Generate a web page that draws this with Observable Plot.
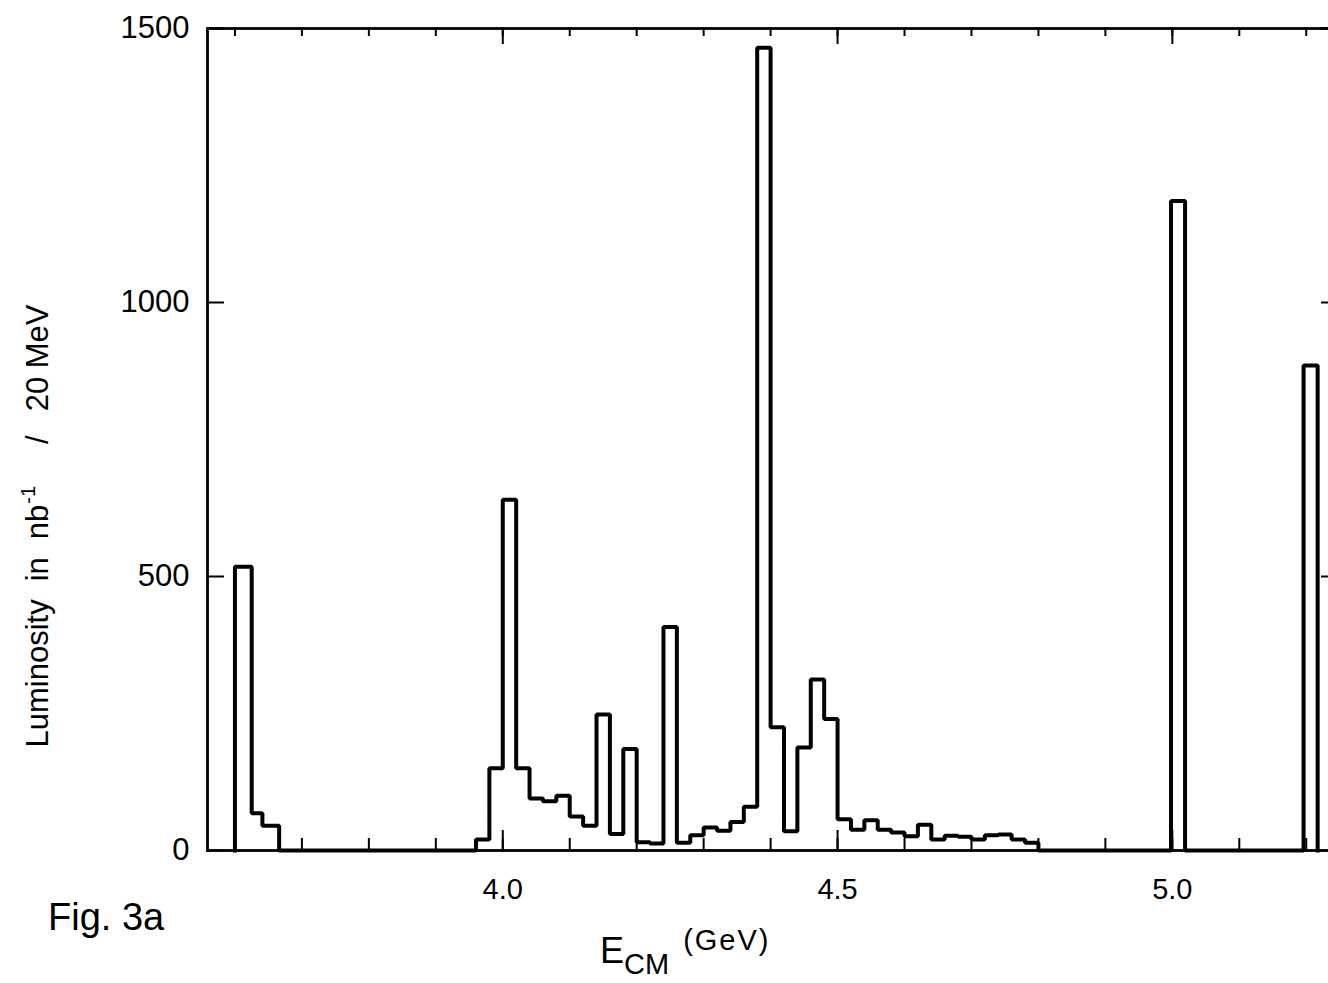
<!DOCTYPE html>
<html><head><meta charset="utf-8">
<script src="https://cdn.jsdelivr.net/npm/d3@7"></script>
<script src="https://cdn.jsdelivr.net/npm/@observablehq/plot@0.6"></script>
<style>
html,body{margin:0;padding:0;background:#fff;overflow:hidden;}
#chart{position:relative;width:1328px;height:983px;overflow:hidden;}
</style></head><body><div id="chart"></div>
<script>
// Bin edges (GeV) and luminosity per bin (nb^-1 / 20 MeV); lumi[i] spans edges[i]..edges[i+1]
const edges = [3.600, 3.625, 3.641, 3.666,
  3.96, 3.98, 4.00, 4.02, 4.04, 4.06, 4.08, 4.10, 4.12, 4.14, 4.16, 4.18, 4.20, 4.22, 4.24, 4.26,
  4.28, 4.30, 4.32, 4.34, 4.36, 4.38, 4.40, 4.42, 4.44, 4.46, 4.48, 4.50, 4.52, 4.54, 4.56, 4.58,
  4.60, 4.62, 4.64, 4.66, 4.68, 4.70, 4.72, 4.74, 4.76, 4.78, 4.80,
  4.998, 5.019, 5.196, 5.217];
const lumi = [518, 68, 45, 0,
  20, 150, 640, 150, 95, 90, 100, 62, 45, 248, 30, 185, 15, 13, 408, 14,
  28, 42, 36, 52, 80, 1465, 225, 35, 188, 312, 240, 57, 38, 55, 38, 33,
  26, 47, 20, 27, 25, 20, 28, 29, 20, 14, 0,
  1185, 0, 885];
const yTicks = [0, 500, 1000, 1500];
const xLabelTicks = [4.0, 4.5, 5.0];
const xMinorTicks = [3.6, 3.7, 3.8, 3.9, 4.0, 4.1, 4.2, 4.3, 4.4, 4.5, 4.6, 4.7, 4.8, 4.9, 5.0, 5.1, 5.2];
const xDomain = [3.559, 5.2377];
const yDomain = [0, 1500];

const W = 1340, H = 983, mL = 207, mT = 28, mB = 133, mR = 9;
const pxPerX = (W - mL - mR) / (xDomain[1] - xDomain[0]);
const pxPerY = (H - mT - mB) / (yDomain[1] - yDomain[0]);

const pts = [{x: edges[0], y: 0}].concat(edges.map((e, i) => ({x: e, y: i < lumi.length ? lumi[i] : 0})));

const plot = Plot.plot({
  width: W, height: H,
  marginLeft: mL, marginTop: mT, marginBottom: mB, marginRight: mR,
  style: {fontFamily: "'Liberation Sans', Arial, sans-serif", color: "black", background: "white", maxWidth: "none", overflow: "visible"},
  x: {domain: xDomain, label: null},
  y: {domain: yDomain, label: null},
  marks: [
    Plot.frame({stroke: "black", strokeWidth: 2.8}),
    // bottom ticks (inward)
    Plot.ruleX(xMinorTicks, {x: d => d, y1: 0, y2: 12 / pxPerY, stroke: "black", strokeWidth: 2}),
    Plot.ruleX(xLabelTicks, {x: d => d, y1: 0, y2: 20 / pxPerY, stroke: "black", strokeWidth: 2}),
    // top ticks (inward)
    Plot.ruleX(xMinorTicks, {x: d => d, y1: 1500, y2: 1500 - 8 / pxPerY, stroke: "black", strokeWidth: 2}),
    Plot.ruleX(xLabelTicks, {x: d => d, y1: 1500, y2: 1500 - 16 / pxPerY, stroke: "black", strokeWidth: 2}),
    // left / right ticks
    Plot.ruleY(yTicks, {y: d => d, x1: xDomain[0], x2: xDomain[0] + 17 / pxPerX, stroke: "black", strokeWidth: 2}),
    Plot.ruleY(yTicks, {y: d => d, x1: xDomain[1], x2: xDomain[1] - 10 / pxPerX, stroke: "black", strokeWidth: 2}),
    Plot.axisX(xLabelTicks, {anchor: "bottom", tickSize: 0, tickPadding: 28, fontSize: 29, tickFormat: d3.format(".1f")}),
    Plot.axisY(yTicks, {anchor: "left", tickSize: 0, tickPadding: 18, fontSize: 31, tickFormat: d => String(d)}),
    Plot.line(pts, {x: "x", y: "y", curve: "step-after", stroke: "black", strokeWidth: 4, strokeLinejoin: "miter", strokeLinecap: "square"})
  ]
});

const svg = d3.select(plot);
// y-axis title
const yt = svg.append("text")
  .attr("transform", "translate(48,526) rotate(-90)")
  .attr("text-anchor", "middle")
  .attr("fill", "black")
  .style("font-size", "31px");
yt.append("tspan").text("Luminosity");
yt.append("tspan").attr("dx", 18).text("in");
yt.append("tspan").attr("dx", 18).text("nb");
yt.append("tspan").attr("dy", -13).attr("dx", 1).style("font-size", "20px").text("-1");
yt.append("tspan").attr("dy", 13).attr("dx", 42).text("/");
yt.append("tspan").attr("dx", 24).text("20 MeV");

// x-axis title
const xt = svg.append("text").attr("x", 600).attr("y", 963).attr("fill", "black").attr("text-anchor", "start");
xt.append("tspan").style("font-size", "36px").text("E");
xt.append("tspan").attr("dy", 11).style("font-size", "29px").text("CM");
xt.append("tspan").attr("dy", -24).attr("dx", 14).style("font-size", "29px").style("letter-spacing", "2px").text("(GeV)");

// figure label
svg.append("text").attr("x", 48).attr("y", 930).attr("fill", "black").attr("text-anchor", "start")
  .style("font-size", "38px").text("Fig. 3a");

document.getElementById("chart").appendChild(plot);
</script></body></html>
